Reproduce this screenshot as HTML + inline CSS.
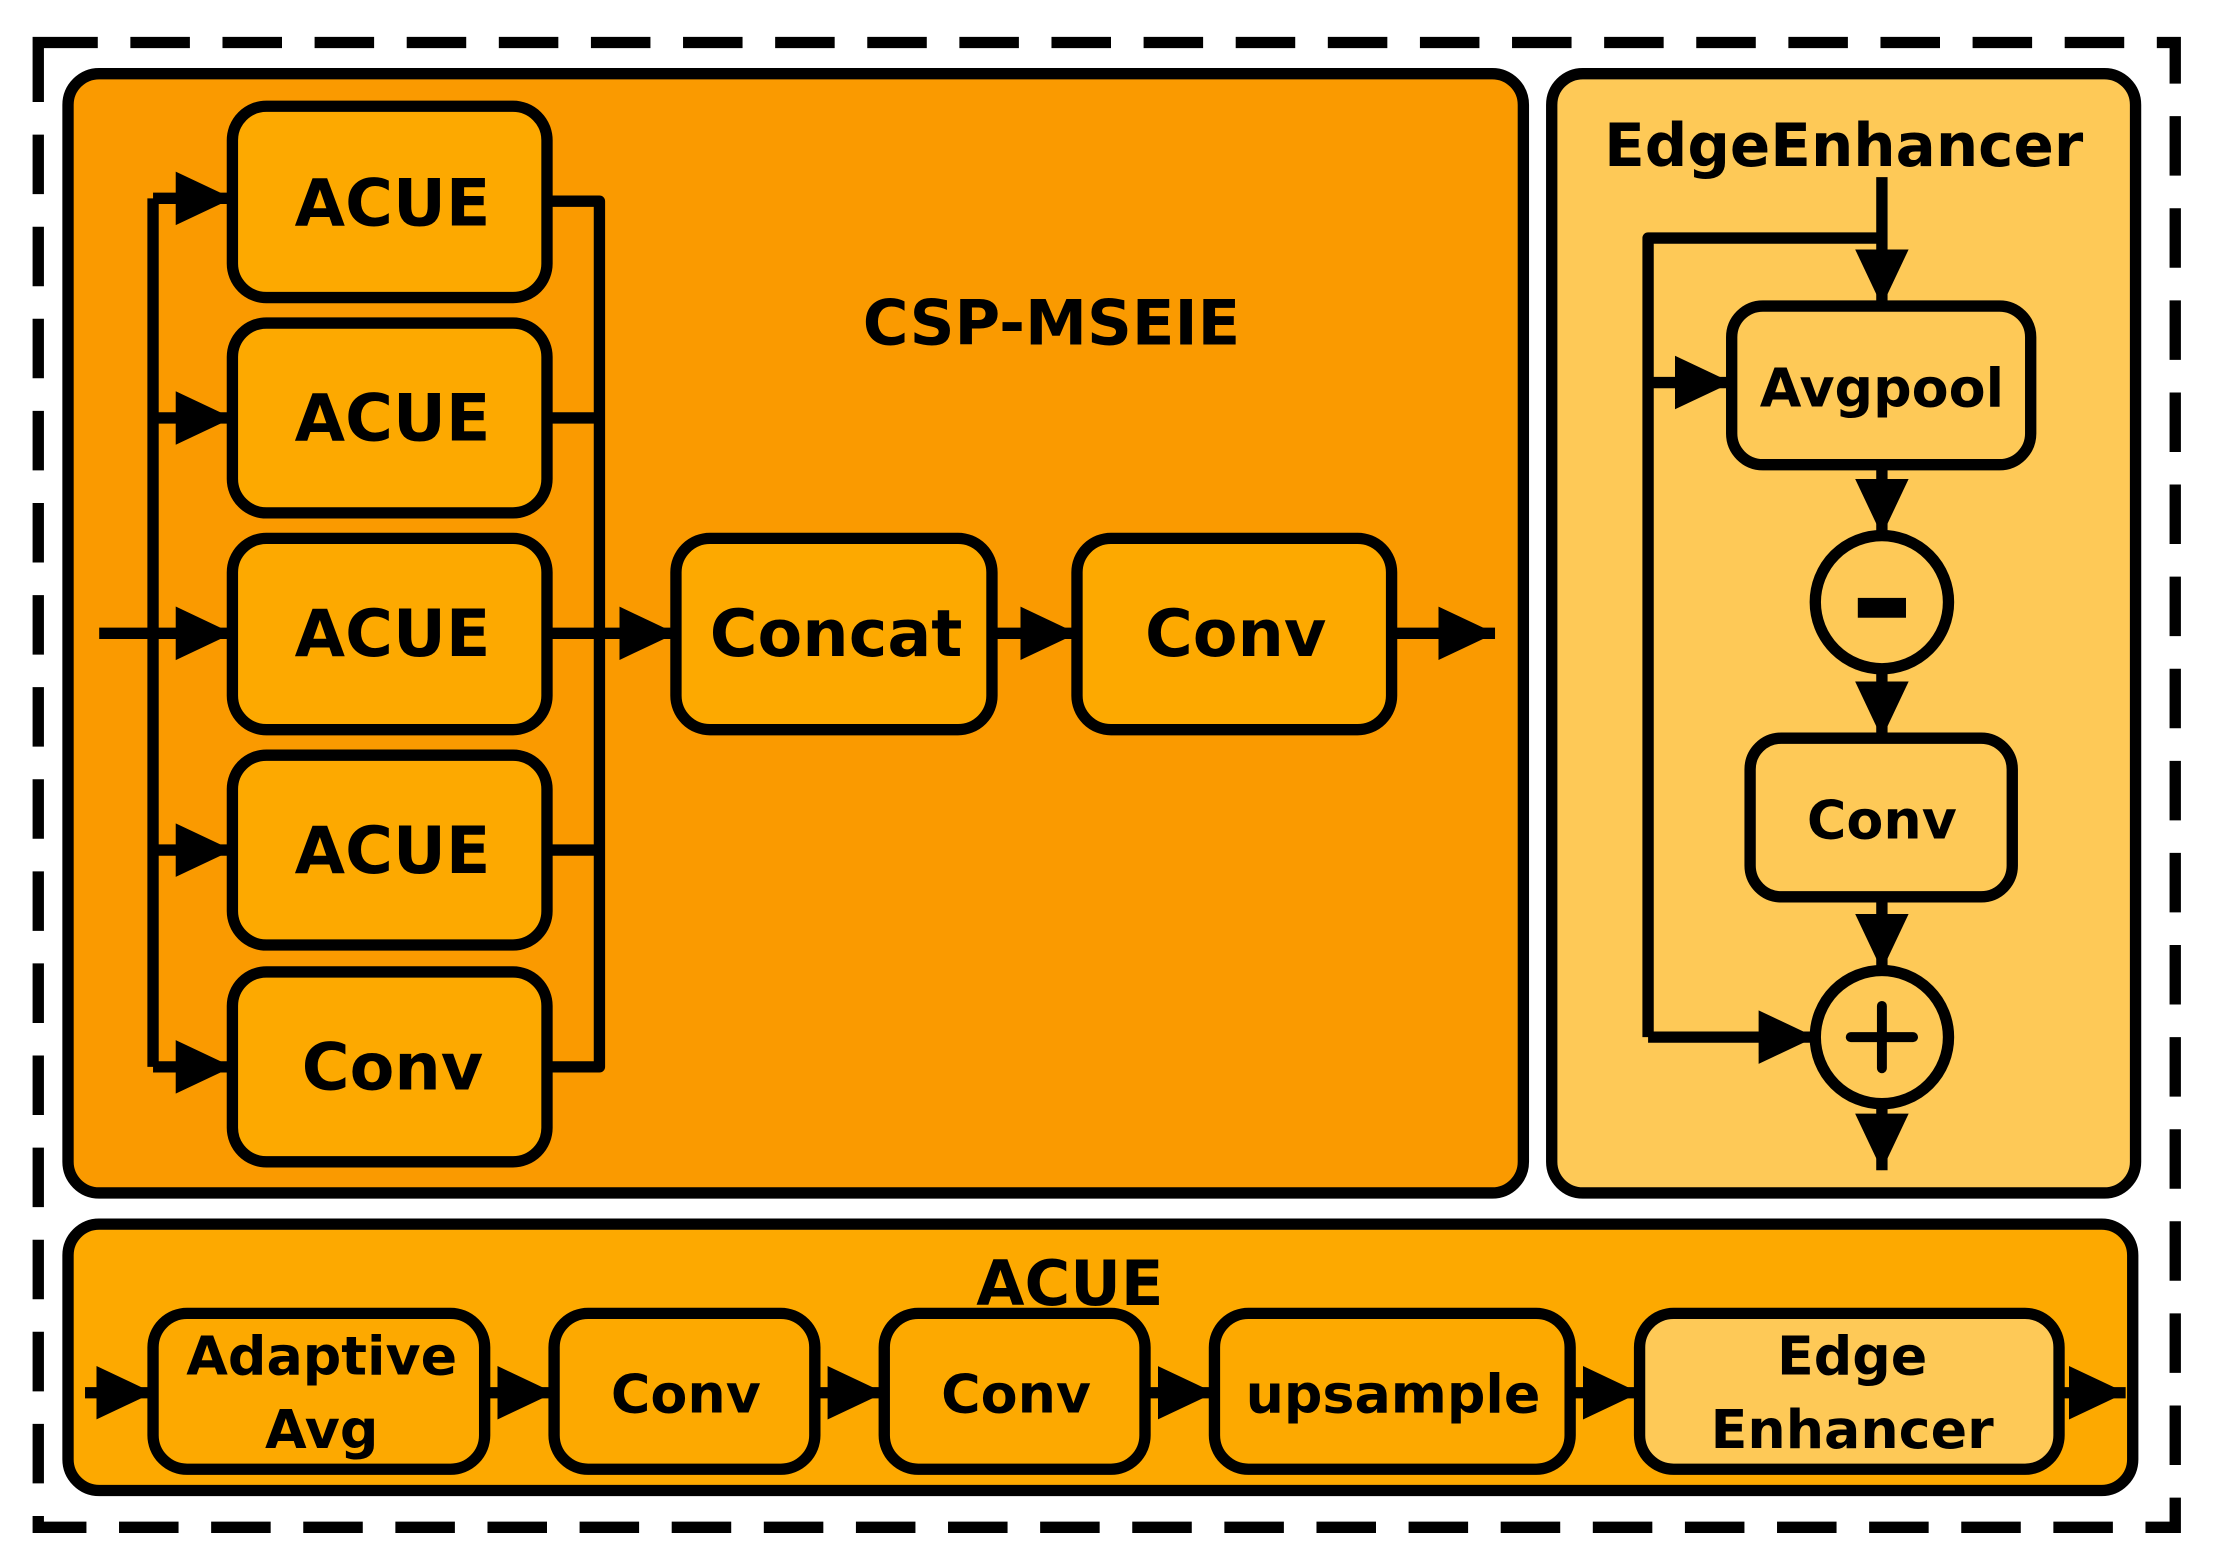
<!DOCTYPE html>
<html><head><meta charset="utf-8"><style>
html,body{margin:0;padding:0;background:#fff}
svg{display:block}
text{font-family:"DejaVu Sans","Liberation Sans",sans-serif;font-weight:bold;fill:#000;text-anchor:middle}
</style></head><body>
<svg width="2222" height="1567" viewBox="0 0 1568 1106" preserveAspectRatio="none" xmlns="http://www.w3.org/2000/svg">
<defs>
<marker id="a" markerUnits="userSpaceOnUse" markerWidth="40" markerHeight="40" viewBox="0 0 36 34" refX="36" refY="17" orient="auto"><path d="M0,0 L36,17 L0,34 Z" fill="#000"/></marker>
</defs>
<rect x="27" y="30" width="1508" height="1048" fill="none" stroke="#000" stroke-width="8" stroke-dasharray="42 23"/>
<rect x="48" y="52" width="1027" height="790" rx="22" fill="#FA9A00" stroke="#000" stroke-width="8"/>
<rect x="1095" y="52" width="412" height="790" rx="22" fill="#FEC957" stroke="#000" stroke-width="8"/>
<rect x="48" y="864" width="1457" height="188" rx="22" fill="#FDA900" stroke="#000" stroke-width="8"/>

<g fill="#FDA900" stroke="#000" stroke-width="8">
<rect x="164" y="75" width="222" height="135" rx="24"/>
<rect x="164" y="228" width="222" height="134" rx="24"/>
<rect x="164" y="380" width="222" height="135" rx="24"/>
<rect x="164" y="533" width="222" height="134" rx="24"/>
<rect x="164" y="686" width="222" height="134" rx="24"/>
<rect x="477" y="380" width="223" height="135" rx="24"/>
<rect x="760" y="380" width="222" height="135" rx="24"/>
<rect x="108" y="927" width="234" height="110" rx="24"/>
<rect x="391" y="927" width="184" height="110" rx="24"/>
<rect x="624" y="927" width="184" height="110" rx="24"/>
<rect x="857" y="927" width="251" height="110" rx="24"/>
</g>
<g fill="#FEC957" stroke="#000" stroke-width="8">
<rect x="1157" y="927" width="296" height="110" rx="24"/>
<rect x="1222" y="216" width="211" height="112" rx="22"/>
<rect x="1235" y="521" width="185" height="112" rx="22"/>
<circle cx="1328" cy="425" r="47"/>
<circle cx="1328" cy="732" r="47"/>
</g>
<rect x="1311" y="422" width="34" height="14" fill="#000"/>
<g stroke="#000" stroke-width="7" fill="none" stroke-linecap="round">
<path d="M1306 732 H1350 M1328 710 V754"/>
</g>

<g stroke="#000" stroke-width="8" fill="none" stroke-linejoin="round">
<path d="M108 140 V753"/>
<path d="M70 447 H164" marker-end="url(#a)"/>
<path d="M108 140 H164" marker-end="url(#a)"/>
<path d="M108 295 H164" marker-end="url(#a)"/>
<path d="M108 600 H164" marker-end="url(#a)"/>
<path d="M108 753 H164" marker-end="url(#a)"/>
<path d="M386 142 H423 V753 H386 M386 295 H423 M386 600 H423"/>
<path d="M386 447 H477" marker-end="url(#a)"/>
<path d="M700 447 H760" marker-end="url(#a)"/>
<path d="M982 447 H1055" marker-end="url(#a)"/>
<path d="M1328 125 V216" marker-end="url(#a)"/>
<path d="M1328 168 H1163 V732"/>
<path d="M1163 270 H1222" marker-end="url(#a)"/>
<path d="M1328 328 V378" marker-end="url(#a)"/>
<path d="M1328 472 V521" marker-end="url(#a)"/>
<path d="M1328 633 V685" marker-end="url(#a)"/>
<path d="M1163 732 H1281" marker-end="url(#a)"/>
<path d="M1328 779 V826" marker-end="url(#a)"/>
<path d="M60 983 H108" marker-end="url(#a)"/>
<path d="M342 983 H391" marker-end="url(#a)"/>
<path d="M575 983 H624" marker-end="url(#a)"/>
<path d="M808 983 H857" marker-end="url(#a)"/>
<path d="M1108 983 H1157" marker-end="url(#a)"/>
<path d="M1453 983 H1500" marker-end="url(#a)"/>
</g>

<g font-size="46">
<text x="277" y="159">ACUE</text>
<text x="277" y="311">ACUE</text>
<text x="277" y="463">ACUE</text>
<text x="277" y="616">ACUE</text>
<text x="277" y="769">Conv</text>
<text x="590" y="463">Concat</text>
<text x="872" y="463">Conv</text>
</g>
<text x="742" y="243" font-size="44">CSP-MSEIE</text>
<text x="1301" y="117" font-size="42">EdgeEnhancer</text>
<text x="1328" y="287" font-size="38">Avgpool</text>
<text x="1328" y="592" font-size="38">Conv</text>
<text x="755" y="921" font-size="44">ACUE</text>
<g font-size="38">
<text x="227" y="970">Adaptive</text>
<text x="227" y="1022">Avg</text>
<text x="484" y="997">Conv</text>
<text x="717" y="997">Conv</text>
<text x="983" y="997">upsample</text>
<text x="1307" y="970">Edge</text>
<text x="1307" y="1022">Enhancer</text>
</g>
</svg>
</body></html>
